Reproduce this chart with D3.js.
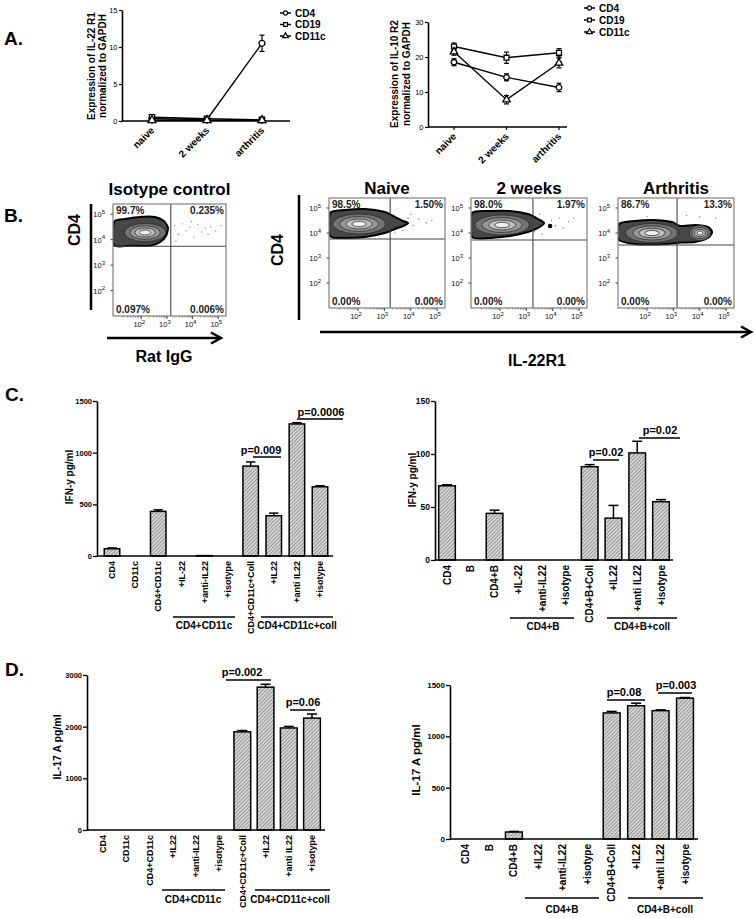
<!DOCTYPE html>
<html><head><meta charset="utf-8">
<script src="https://cdn.jsdelivr.net/npm/d3@7"></script>
<style>body{margin:0;background:#fff}svg{display:block;font-family:"Liberation Sans",Arial,sans-serif}</style>
</head><body><svg id="fig" width="754" height="918"></svg>
<script>
// ---------------- DATA ----------------
const aTimes = ["naive", "2 weeks", "arthritis"];
const aSeriesNames = ["CD4", "CD19", "CD11c"];
const il22r1Values = [[0.3, 0.2, 10.5], [0.5, 0.3, 0.15], [0.1, 0.1, 0.1]];
const il22r1Errors = [[0.2, 0.1, 1.1], [0.2, 0.1, 0.1], [0.1, 0.1, 0.1]];
const il10r2Values = [[18.5, 14.2, 11.3], [23.0, 19.8, 21.2], [21.5, 7.8, 18.3]];
const il10r2Errors = [[1.0, 1.0, 1.2], [1.0, 1.6, 1.2], [1.0, 1.2, 1.4]];
const aTicksLeft = [0, 5, 10, 15];
const aTicksRight = [0, 10, 20, 30];

const flowTitles = ["Isotype control", "Naive", "2 weeks", "Arthritis"];
const flowQuadrants = [
  ["99.7%", "0.235%", "0.097%", "0.006%"],
  ["98.5%", "1.50%", "0.00%", "0.00%"],
  ["98.0%", "1.97%", "0.00%", "0.00%"],
  ["86.7%", "13.3%", "0.00%", "0.00%"]];
const flowGateX = [3.15, 3.22, 3.25, 3.14];   // log10 units
const flowGateY = [3.74, 3.76, 3.72, 3.52];
const flowOutlines = [
  [[0.94,4.69],[1.37,4.81],[1.95,4.89],[2.53,4.89],[2.88,4.73],[3.04,4.46],[2.96,4.14],[2.73,3.9],[2.34,3.76],[1.56,3.76],[0.94,3.78]],
  [[0.94,4.8],[1.51,4.92],[2.27,4.96],[3.02,4.84],[3.4,4.64],[3.71,4.48],[3.9,4.4],[3.71,4.28],[3.4,4.16],[3.02,4.0],[2.27,3.84],[1.51,3.8],[0.94,3.88]],
  [[0.94,4.8],[1.62,4.88],[2.38,4.88],[3.06,4.76],[3.44,4.56],[3.67,4.4],[3.44,4.2],[3.06,4.04],[2.38,3.88],[1.62,3.8],[0.94,3.84]],
  [[0.94,4.36],[1.54,4.48],[2.3,4.52],[2.95,4.44],[3.25,4.28],[3.82,4.32],[4.31,4.24],[4.47,4.04],[4.31,3.8],[3.82,3.64],[3.25,3.62],[2.95,3.58],[2.3,3.54],[1.54,3.56],[0.94,3.72]]];
const flowCores = [
  [{cx: 2.15, cy: 4.28, rx: 0.8, ry: 0.36}],
  [{cx: 2.04, cy: 4.36, rx: 1.0, ry: 0.4}],
  [{cx: 2.08, cy: 4.32, rx: 1.03, ry: 0.4}],
  [{cx: 2.19, cy: 4.0, rx: 1.0, ry: 0.38}, {cx: 4.01, cy: 4.0, rx: 0.4, ry: 0.3}]];
const flowSpots = [[], [], [[3.9, 4.28]], []];
const flowDots = [
  [[3.3,4.55],[3.45,4.2],[3.6,4.62],[3.75,4.35],[3.9,4.5],[4.05,4.1],[4.2,4.6],[4.35,4.3],[4.5,4.45],[4.7,4.5],[4.9,4.35],[5.1,4.55],[3.35,3.95],[3.95,4.7],[4.6,4.2],[2.9,4.0],[3.05,4.5],[2.6,3.85],[2.3,3.8],[1.0,4.3],[1.05,4.0],[1.1,4.6]],
  [[3.5,4.5],[3.7,4.1],[3.9,4.6],[4.1,4.3],[4.3,4.55],[4.6,4.4],[3.4,4.0],[4.0,4.75],[4.8,4.5],[3.3,4.2]],
  [[3.95,4.5],[4.1,4.3],[4.25,4.6],[4.4,4.2],[4.6,4.45],[3.6,3.95],[4.8,4.6],[3.5,4.75],[3.3,4.05]],
  [[4.6,4.6],[3.5,4.7],[4.0,4.65],[2.0,4.65]]];
const flowTicks = [2, 3, 4, 5];

const cLeftCats = ["CD4","CD11c","CD4+CD11c","+IL-22","+anti-IL22","+isotype","CD4+CD11c+Coll","+IL22","+anti IL22","+isotype"];
const cLeftVals = [70, 0, 432, 0, 4, 0, 870, 390, 1278, 670];
const cLeftErrs = [8, 0, 15, 0, 0, 0, 40, 25, 12, 10];
const cLeftTicks = [0, 500, 1000, 1500];
const cLeftSig = ["p=0.009", "p=0.0006"];
const cLeftGroups = ["CD4+CD11c", "CD4+CD11c+coll"];

const cRightCats = ["CD4","B","CD4+B","+IL-22","+anti-IL22","+isotype","CD4+B+Coll","+IL22","+anti IL22","+isotype"];
const cRightVals = [70, 0, 44, 0, 0, 0, 88, 39.5, 101, 55];
const cRightErrs = [1, 0, 3, 0, 0, 0, 2, 12, 11, 2];
const cRightTicks = [0, 50, 100, 150];
const cRightSig = ["p=0.02", "p=0.02"];
const cRightGroups = ["CD4+B", "CD4+B+coll"];

const dLeftCats = ["CD4","CD11c","CD4+CD11c","+IL22","+anti-IL22","+isotype","CD4+CD11c+Coll","+IL22","+anti IL22","+isotype"];
const dLeftVals = [0, 0, 0, 0, 0, 0, 1900, 2765, 1975, 2165];
const dLeftErrs = [0, 0, 0, 0, 0, 0, 25, 55, 30, 80];
const dLeftTicks = [0, 1000, 2000, 3000];
const dLeftSig = ["p=0.002", "p=0.06"];
const dLeftGroups = ["CD4+CD11c", "CD4+CD11c+coll"];

const dRightCats = ["CD4","B","CD4+B","+IL22","+anti-IL22","+isotype","CD4+B+Coll","+IL22","+anti IL22","+isotype"];
const dRightVals = [0, 0, 68, 0, 0, 0, 1228, 1298, 1250, 1372];
const dRightErrs = [0, 0, 6, 0, 0, 0, 15, 25, 8, 6];
const dRightTicks = [0, 500, 1000, 1500];
const dRightSig = ["p=0.08", "p=0.003"];
const dRightGroups = ["CD4+B", "CD4+B+coll"];

// ---------------- DRAWING ----------------
const FONT = "'Liberation Sans', Arial, sans-serif";
const fmt = d3.format("d");
const svg = d3.select("#fig");
const defs = svg.append("defs");
const pat = defs.append("pattern").attr("id", "hatch").attr("patternUnits", "userSpaceOnUse")
  .attr("width", 2.6).attr("height", 2.6).attr("patternTransform", "rotate(45)");
pat.append("rect").attr("width", 2.6).attr("height", 2.6).attr("fill", "#d6d6d6");
pat.append("line").attr("x1", 0).attr("y1", 0).attr("x2", 0).attr("y2", 2.6).attr("stroke", "#666").attr("stroke-width", 1.1);

function txt(g, x, y, s, size, opts = {}) {
  return g.append("text").attr("x", x).attr("y", y).text(s)
    .attr("font-size", size).attr("font-family", FONT)
    .attr("font-weight", opts.weight || "bold")
    .attr("text-anchor", opts.anchor || "start")
    .attr("fill", opts.fill || "#000");
}

// panel letters
[["A.", 4, 45], ["B.", 4, 222], ["C.", 5, 401], ["D.", 5, 676]].forEach(([s, x, y]) => txt(svg, x, y, s, 19));

// ---------- Panel A ----------
const aSymbols = [d3.symbolCircle, d3.symbolSquare, d3.symbolTriangle];
function linePanel(o, values, errors, ticks, yMax, labelLines) {
  const g = svg.append("g");
  const x = d3.scalePoint().domain(aTimes).range([o.c0, o.c1]);
  const y = d3.scaleLinear().domain([0, yMax]).range([o.y0, o.y1]);
  const ya = g.append("g").attr("transform", `translate(${o.ax},0)`)
    .call(d3.axisLeft(y).tickValues(ticks).tickFormat(fmt).tickSize(3).tickSizeOuter(0));
  ya.select(".domain").attr("stroke-width", 1.6);
  ya.selectAll(".tick line").attr("stroke-width", 1.2);
  ya.selectAll(".tick text").attr("font-size", 7.5).attr("font-family", FONT).attr("x", -4.5);
  g.append("line").attr("x1", o.ax).attr("x2", o.axEnd).attr("y1", o.y0).attr("y2", o.y0)
    .attr("stroke", "#000").attr("stroke-width", 1.6);
  g.selectAll("line.xt").data(aTimes).join("line").attr("class", "xt")
    .attr("x1", d => x(d)).attr("x2", d => x(d)).attr("y1", o.y0).attr("y2", o.y0 + 3)
    .attr("stroke", "#000").attr("stroke-width", 1.2);
  g.selectAll("text.xl").data(aTimes).join("text").attr("class", "xl")
    .attr("transform", d => `translate(${x(d) + 3},${o.y0 + 10}) rotate(-45)`)
    .attr("text-anchor", "end").attr("font-size", 10).attr("font-weight", "bold")
    .attr("font-family", FONT).text(d => d);
  values.forEach((vals, si) => {
    const pts = vals.map((v, i) => [x(aTimes[i]), y(v)]);
    g.append("path").attr("d", d3.line()(pts)).attr("fill", "none").attr("stroke", "#000").attr("stroke-width", 1.4);
    vals.forEach((v, i) => {
      const e = errors[si][i], cx = x(aTimes[i]);
      g.append("line").attr("x1", cx).attr("x2", cx).attr("y1", y(v - e)).attr("y2", y(v + e)).attr("stroke", "#000").attr("stroke-width", 1.2);
      [v - e, v + e].forEach(t => g.append("line").attr("x1", cx - 2.5).attr("x2", cx + 2.5).attr("y1", y(t)).attr("y2", y(t)).attr("stroke", "#000").attr("stroke-width", 1.2));
    });
    g.selectAll(null).data(pts).join("path")
      .attr("transform", d => `translate(${d[0]},${d[1]})`)
      .attr("d", d3.symbol().type(aSymbols[si]).size(o.sym))
      .attr("fill", "#fff").attr("stroke", "#000").attr("stroke-width", 1.3);
  });
  labelLines.forEach((s, i) => {
    g.append("text").attr("transform", `translate(${o.labX[i]},${o.labY}) rotate(-90)`)
      .attr("text-anchor", "middle").attr("font-size", 10).attr("font-weight", "bold")
      .attr("font-family", FONT).text(s);
  });
  aSeriesNames.forEach((s, i) => {
    const ly = o.legY + i * o.legDy;
    g.append("line").attr("x1", o.legX).attr("x2", o.legX + 11).attr("y1", ly).attr("y2", ly).attr("stroke", "#000").attr("stroke-width", 1.5);
    g.append("path").attr("transform", `translate(${o.legX + 5.5},${ly})`)
      .attr("d", d3.symbol().type(aSymbols[i]).size(14)).attr("fill", "#fff").attr("stroke", "#000").attr("stroke-width", 1.2);
    txt(g, o.legX + 15, ly + 3.6, s, 10);
  });
}
linePanel({c0: 152, c1: 262, ax: 122, axEnd: 290, y0: 121, y1: 10, sym: 28,
  labX: [95, 106], labY: 66, legX: 280, legY: 13, legDy: 11.5},
  il22r1Values, il22r1Errors, aTicksLeft, 15, ["Expression of IL-22 R1", "normalized  to GAPDH"]);
linePanel({c0: 454, c1: 559, ax: 428, axEnd: 567, y0: 127, y1: 22, sym: 24,
  labX: [398, 410], labY: 74, legX: 584, legY: 8, legDy: 12},
  il10r2Values, il10r2Errors, aTicksRight, 30, ["Expression of IL-10 R2", "normalized to GAPDH"]);

// ---------- Panel B ----------
const flowBoxes = [
  {left: 113, top: 204, w: 113, h: 112, tY: 195},
  {left: 329, top: 198, w: 116, h: 110, tY: 194},
  {left: 471, top: 198, w: 116, h: 110, tY: 194},
  {left: 618, top: 198, w: 116, h: 110, tY: 194}];
const ringFrac = [1, 0.74, 0.5, 0.27];
const ringFill = ["#737373", "#989898", "#c0c0c0", "#efefef"];
function sup(g, x, y, exp, anchor) {
  const t = g.append("text").attr("x", x).attr("y", y).attr("font-family", FONT)
    .attr("font-size", 7.5).attr("text-anchor", anchor).attr("fill", "#111");
  t.append("tspan").text("10");
  t.append("tspan").attr("dy", -3.5).attr("font-size", 6).text(exp);
}
flowBoxes.forEach((b, k) => {
  const g = svg.append("g");
  const x = d3.scaleLog().domain([10 ** 0.9, 10 ** 5.3]).range([b.left, b.left + b.w]);
  const y = d3.scaleLog().domain([10, 10 ** 5.4]).range([b.top + b.h, b.top]);
  const X = v => x(10 ** v), Y = v => y(10 ** v);
  const cid = "clip" + k;
  defs.append("clipPath").attr("id", cid).append("rect").attr("x", b.left).attr("y", b.top).attr("width", b.w).attr("height", b.h);
  const inner = g.append("g").attr("clip-path", `url(#${cid})`);
  inner.selectAll("circle.dot").data(flowDots[k]).join("circle").attr("class", "dot")
    .attr("cx", d => X(d[0])).attr("cy", d => Y(d[1])).attr("r", 0.7).attr("fill", "#888");
  inner.append("path").attr("d", d3.line().x(d => X(d[0])).y(d => Y(d[1])).curve(d3.curveCardinalClosed.tension(0.3))(flowOutlines[k]))
    .attr("fill", "#474747").attr("stroke", "#000").attr("stroke-width", 2);
  flowCores[k].forEach(c => {
    ringFrac.forEach((f, i) => {
      inner.append("ellipse").attr("cx", X(c.cx)).attr("cy", Y(c.cy))
        .attr("rx", (X(c.cx + c.rx) - X(c.cx)) * f).attr("ry", (Y(c.cy) - Y(c.cy + c.ry)) * f)
        .attr("fill", ringFill[i]).attr("stroke", "#222").attr("stroke-width", 0.7);
    });
  });
  inner.selectAll("circle.spot").data(flowSpots[k]).join("circle").attr("class", "spot")
    .attr("cx", d => X(d[0])).attr("cy", d => Y(d[1])).attr("r", 2.2).attr("fill", "#000");
  g.append("line").attr("x1", X(flowGateX[k])).attr("x2", X(flowGateX[k])).attr("y1", b.top).attr("y2", b.top + b.h).attr("stroke", "#444").attr("stroke-width", 1.1);
  g.append("line").attr("x1", b.left).attr("x2", b.left + b.w).attr("y1", Y(flowGateY[k])).attr("y2", Y(flowGateY[k])).attr("stroke", "#444").attr("stroke-width", 1.1);
  g.append("rect").attr("x", b.left).attr("y", b.top).attr("width", b.w).attr("height", b.h)
    .attr("fill", "none").attr("stroke", "#8a8a8a").attr("stroke-width", 1.3);
  flowTicks.forEach(t => {
    g.append("line").attr("x1", b.left - 2.5).attr("x2", b.left).attr("y1", Y(t)).attr("y2", Y(t)).attr("stroke", "#444");
    sup(g, b.left - 8, Y(t) + 3, t, "end");
    g.append("line").attr("x1", X(t)).attr("x2", X(t)).attr("y1", b.top + b.h).attr("y2", b.top + b.h + 3).attr("stroke", "#444");
    sup(g, X(t) - 2, b.top + b.h + 11, t, "middle");
  });
  for (let dec = 1; dec <= 4; dec++) for (let m = 2; m <= 9; m++) {
    const v = dec + Math.log10(m);
    if (v < 5.3 && v > 0.9) g.append("line").attr("x1", X(v)).attr("x2", X(v)).attr("y1", b.top + b.h).attr("y2", b.top + b.h + 1.6).attr("stroke", "#666").attr("stroke-width", 0.7);
  }
  const q = flowQuadrants[k];
  txt(g, b.left + 3, b.top + 10, q[0], 10, {fill: "#222"});
  txt(g, b.left + b.w - 2, b.top + 10, q[1], 10, {anchor: "end", fill: "#222"});
  txt(g, b.left + 3, b.top + b.h - 3, q[2], 10, {fill: "#222"});
  txt(g, b.left + b.w - 2, b.top + b.h - 3, q[3], 10, {anchor: "end", fill: "#222"});
  txt(g, b.left + b.w / 2, b.tY, flowTitles[k], 17, {anchor: "middle"});
});
function vlabel(x, y, s, size) {
  svg.append("text").attr("transform", `translate(${x},${y}) rotate(-90)`).attr("text-anchor", "middle")
    .attr("font-size", size).attr("font-weight", "bold").attr("font-family", FONT).text(s);
}
vlabel(80, 230, "CD4", 16);
vlabel(283, 250, "CD4", 16);
svg.append("line").attr("x1", 91).attr("x2", 91).attr("y1", 204).attr("y2", 310).attr("stroke", "#000").attr("stroke-width", 2.5);
svg.append("line").attr("x1", 299).attr("x2", 299).attr("y1", 195).attr("y2", 320).attr("stroke", "#000").attr("stroke-width", 2.5);
function arrow(x1, x2, y) {
  svg.append("line").attr("x1", x1).attr("x2", x2 - 1).attr("y1", y).attr("y2", y).attr("stroke", "#000").attr("stroke-width", 2.5);
  svg.append("path").attr("d", `M${x2 - 10},${y - 5.5}L${x2},${y}L${x2 - 10},${y + 5.5}`).attr("fill", "none").attr("stroke", "#000").attr("stroke-width", 2.5);
}
arrow(107, 221, 338);
arrow(320, 751, 332);
txt(svg, 164, 362, "Rat IgG", 16, {anchor: "middle"});
txt(svg, 537, 366, "IL-22R1", 16, {anchor: "middle"});

// ---------- Panels C & D ----------
function barPanel(o, cats, vals, errs, ticks, ymax, ylabel, sigText, groupText) {
  const g = svg.append("g");
  const n = cats.length, step = (o.cN - o.c0) / (n - 1);
  const x = d3.scaleBand().domain(d3.range(n)).range([o.c0 - step / 2, o.cN + step / 2]).paddingInner(o.pad).paddingOuter(o.pad / 2);
  const y = d3.scaleLinear().domain([0, ymax]).range([o.y0, o.y1]);
  const bw = x.bandwidth();
  const data = vals.map((v, i) => ({i, v, e: errs[i]}));
  g.selectAll("rect").data(data.filter(d => d.v > 0)).join("rect")
    .attr("x", d => x(d.i)).attr("width", bw).attr("y", d => y(d.v)).attr("height", d => o.y0 - y(d.v))
    .attr("fill", "url(#hatch)").attr("stroke", "#000").attr("stroke-width", 1.5);
  data.filter(d => d.e > 0).forEach(d => {
    const cx = x(d.i) + bw / 2;
    g.append("line").attr("x1", cx).attr("x2", cx).attr("y1", y(d.v)).attr("y2", y(d.v + d.e)).attr("stroke", "#000").attr("stroke-width", 1.5);
    g.append("line").attr("x1", cx - bw * 0.3).attr("x2", cx + bw * 0.3).attr("y1", y(d.v + d.e)).attr("y2", y(d.v + d.e)).attr("stroke", "#000").attr("stroke-width", 1.5);
  });
  const ya = g.append("g").attr("transform", `translate(${o.ax},0)`)
    .call(d3.axisLeft(y).tickValues(ticks).tickFormat(fmt).tickSize(4).tickSizeOuter(0));
  ya.select(".domain").attr("stroke-width", 1.6);
  ya.selectAll(".tick line").attr("stroke-width", 1.3);
  ya.selectAll(".tick text").attr("font-size", o.tickFont).attr("font-weight", "bold").attr("font-family", FONT).attr("x", -5);
  g.append("line").attr("x1", o.ax).attr("x2", o.axEnd).attr("y1", o.y0).attr("y2", o.y0).attr("stroke", "#000").attr("stroke-width", 1.6);
  g.selectAll("text.xl").data(cats).join("text").attr("class", "xl")
    .attr("transform", (d, i) => `translate(${x(i) + bw / 2 + o.xlFont * 0.36},${o.y0 + 5}) rotate(-90)`)
    .attr("text-anchor", "end").attr("font-size", o.xlFont).attr("font-weight", "bold").attr("font-family", FONT).text(d => d);
  g.append("text").attr("transform", `translate(${o.labX},${o.labY}) rotate(-90)`).attr("text-anchor", "middle")
    .attr("font-size", o.labFont).attr("font-weight", "bold").attr("font-family", FONT).text(ylabel);
  sigText.forEach((s, i) => {
    const L = o.sig[i];
    g.append("line").attr("x1", L.x1).attr("x2", L.x2).attr("y1", L.ly).attr("y2", L.ly).attr("stroke", "#000").attr("stroke-width", 1.5);
    txt(g, L.tx, L.ty, s, 11, {anchor: "middle"});
  });
  groupText.forEach((s, i) => {
    const L = o.groups[i];
    g.append("line").attr("x1", L.x1).attr("x2", L.x2).attr("y1", L.ly).attr("y2", L.ly).attr("stroke", "#000").attr("stroke-width", 1.5);
    txt(g, L.tx, L.ty, s, 10, {anchor: "middle"});
  });
}
barPanel({c0: 112, cN: 320, pad: 0.33, ax: 97, axEnd: 333, y0: 556, y1: 401, tickFont: 7.5, xlFont: 9,
  labX: 73, labY: 477, labFont: 10,
  sig: [{tx: 261, ty: 454, x1: 253, x2: 281, ly: 457}, {tx: 321, ty: 416, x1: 297, x2: 343, ly: 419}],
  groups: [{x1: 173, x2: 235, ly: 617, tx: 204, ty: 629}, {x1: 261, x2: 333, ly: 617, tx: 297, ty: 629}]},
  cLeftCats, cLeftVals, cLeftErrs, cLeftTicks, 1500, "IFN-y pg/ml", cLeftSig, cLeftGroups);
barPanel({c0: 447, cN: 661, pad: 0.3, ax: 435, axEnd: 673, y0: 560, y1: 401, tickFont: 8.5, xlFont: 10,
  labX: 416, labY: 480, labFont: 10,
  sig: [{tx: 606, ty: 456, x1: 593, x2: 619, ly: 460}, {tx: 660, ty: 434, x1: 639, x2: 680, ly: 438}],
  groups: [{x1: 510, x2: 574, ly: 618, tx: 543, ty: 630}, {x1: 607, x2: 677, ly: 618, tx: 642, ty: 630}]},
  cRightCats, cRightVals, cRightErrs, cRightTicks, 150, "IFN-y pg/ml", cRightSig, cRightGroups);
barPanel({c0: 103, cN: 312, pad: 0.28, ax: 87, axEnd: 325, y0: 830, y1: 675, tickFont: 7.5, xlFont: 9,
  labX: 61, labY: 747, labFont: 10.5,
  sig: [{tx: 242, ty: 676, x1: 226, x2: 271, ly: 680}, {tx: 303, ty: 706, x1: 290, x2: 315, ly: 710}],
  groups: [{x1: 162, x2: 225, ly: 890, tx: 193, ty: 903}, {x1: 255, x2: 330, ly: 890, tx: 290, ty: 903}]},
  dLeftCats, dLeftVals, dLeftErrs, dLeftTicks, 3000, "IL-17 A pg/ml", dLeftSig, dLeftGroups);
barPanel({c0: 465, cN: 685, pad: 0.31, ax: 450, axEnd: 698, y0: 839, y1: 685, tickFont: 8, xlFont: 10,
  labX: 420, labY: 760, labFont: 11.5,
  sig: [{tx: 624, ty: 696, x1: 607, x2: 645, ly: 700}, {tx: 676, ty: 689, x1: 658, x2: 692, ly: 693}],
  groups: [{x1: 525, x2: 599, ly: 898, tx: 562, ty: 913}, {x1: 628, x2: 703, ly: 898, tx: 665, ty: 913}]},
  dRightCats, dRightVals, dRightErrs, dRightTicks, 1500, "IL-17 A pg/ml", dRightSig, dRightGroups);
</script></body></html>
